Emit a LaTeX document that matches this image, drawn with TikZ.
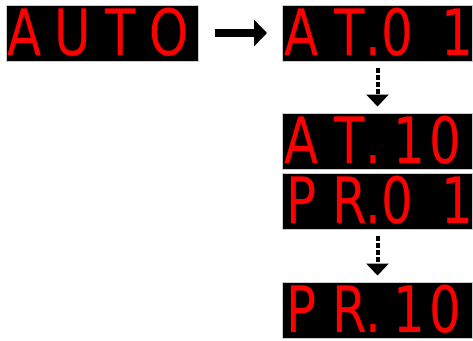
\documentclass[tikz,border=0pt]{standalone}
\usepackage{fontspec}
\newfontfamily\segfont[FakeStretch=0.78]{DejaVu Sans}
\usetikzlibrary{arrows.meta,positioning}
\definecolor{segred}{RGB}{255,0,0}
% one character place of the display
\newcommand\cell[1]{\makebox[48pt]{#1}}
\newcommand\cellone{\makebox[48pt][r]{1\kern-4pt}}
\newcommand\segdot{\makebox[0pt]{.}}
\begin{document}
\begin{tikzpicture}[x=1pt, y=-1pt,
	display/.style={fill=black, draw=gray!40, line width=1pt, inner sep=0pt,
		minimum width=190pt, text height=50pt, text depth=6pt, text=segred,
		font=\segfont\fontsize{64pt}{64pt}\selectfont},
	step arrow/.style={-{Triangle[width=26pt, length=13pt]}, line width=8pt},
	next arrow/.style={-{Triangle[width=22pt, length=12pt]}, line width=4pt,
		dash pattern=on 5pt off 2pt}]
	\useasboundingbox (0,0) rectangle (473,340);

	% Draw the displays
	\node[display, minimum width=192pt] (auto) at (102,33)
		{\hspace*{-5pt}\cell{A}\cell{U}\cell{T}\cell{O}\hspace*{5pt}};
	\node[display] (at01) at (377.5,33)
		{\hspace*{-5pt}\cell{A}\cell{T}\segdot\cell{0}\cellone\hspace*{3pt}};
	\node[display] (at10) at (377.5,141)
		{\hspace*{-5pt}\cell{A}\cell{T}\segdot\cellone\cell{0}\hspace*{3pt}};
	\node[display] (pr01) at (377.5,201)
		{\hspace*{-5pt}\cell{P}\cell{R}\segdot\cell{0}\cellone\hspace*{3pt}};
	\node[display] (pr10) at (377.5,310)
		{\hspace*{-5pt}\cell{P}\cell{R}\segdot\cellone\cell{0}\hspace*{3pt}};

	% Draw the arrows between them
	\draw[step arrow, shorten <=16pt, shorten >=15pt] (auto) -- (at01);
	\draw[next arrow, shorten <=6pt, shorten >=6pt] (at01) -- (at10);
	\draw[next arrow, shorten <=6pt, shorten >=6pt] (pr01) -- (pr10);
\end{tikzpicture}
\end{document}
